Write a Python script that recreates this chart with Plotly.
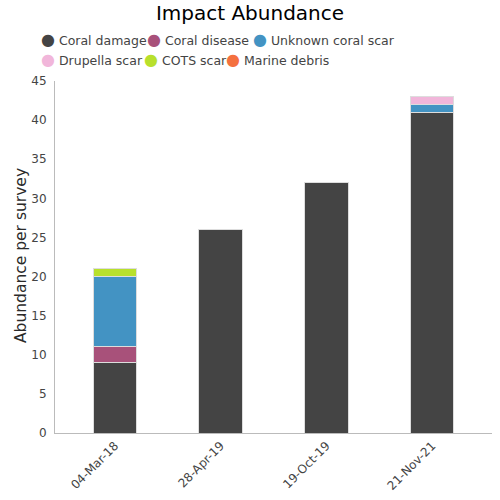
import plotly.graph_objects as go

dates = ["04-Mar-18", "28-Apr-19", "19-Oct-19", "21-Nov-21"]
coral_damage = [9, 26, 32, 41]
coral_disease = [2, 0, 0, 0]
unknown_scar = [9, 0, 0, 1]
drupella_scar = [0, 0, 0, 1]
cots_scar = [1, 0, 0, 0]
marine_debris = [0, 0, 0, 0]

names = ["Coral damage", "Coral disease", "Unknown coral scar", "Drupella scar", "COTS scar", "Marine debris"]
values = [coral_damage, coral_disease, unknown_scar, drupella_scar, cots_scar, marine_debris]
colors = ["#444444", "#a8517a", "#4393c3", "#f1b6da", "#b8e02c", "#f4703f"]
# legend entry placement (left edge x, row centre y) in pixels of the 500x500 canvas
legend_pos = [(41, 40), (147, 40), (253, 40), (41, 60), (144, 60), (226, 60)]

fig = go.Figure()
for name, vals, col in zip(names, values, colors):
    fig.add_trace(go.Bar(x=dates, y=vals, name=name, showlegend=False,
                         marker=dict(color=col, line=dict(color="#dddddd", width=1)), width=0.41))

layout_legends = {}
for i, (name, col, (lx, cy)) in enumerate(zip(names, colors, legend_pos)):
    key = "legend" if i == 0 else f"legend{i+1}"
    label = f"<span style='color:{col};font-size:16px'>●</span> {name}"
    fig.add_trace(go.Scatter(x=[dates[0]], y=[None], name=label, mode="markers", legend=key,
                             marker=dict(color="rgba(0,0,0,0)", size=1), showlegend=True,
                             hoverinfo="skip"))
    layout_legends[key] = dict(orientation="h", xanchor="left", yanchor="middle",
                               xref="container", yref="container",
                               x=(lx - 40) / 500, y=1 - cy / 500,
                               font=dict(size=12.5, color="#444444"),
                               itemwidth=30, bgcolor="rgba(0,0,0,0)")

fig.update_layout(
    barmode="stack",
    width=500, height=500,
    paper_bgcolor="white", plot_bgcolor="white",
    font=dict(family="DejaVu Sans", color="#444444", size=12),
    title=dict(text="Impact Abundance", x=0.5, xanchor="center", xref="container",
               y=1 - 13 / 500, yanchor="middle", yref="container",
               font=dict(size=20, color="black")),
    margin=dict(l=55, r=8, t=81, b=67, autoexpand=False),
    xaxis=dict(showline=True, linecolor="#bbbbbb", tickangle=-45, ticks="", automargin=False,
               range=[-0.566, 3.566],
               tickfont=dict(size=12, color="#444444")),
    yaxis=dict(range=[0, 45], dtick=5, showgrid=False, showline=True, linecolor="#bbbbbb",
               ticks="", ticklabelstandoff=5, zeroline=False, automargin=False,
               tickfont=dict(size=12, color="#444444")),
    annotations=[dict(text="Abundance per survey", textangle=-90, showarrow=False,
                      xref="paper", yref="paper", x=(21 - 55) / 437, y=(433 - 256) / 352,
                      xanchor="center", yanchor="middle",
                      font=dict(size=15.5, color="#2a2a2a"))],
    **layout_legends,
)
fig.write_html("out.html", config={"displayModeBar": False},
               post_script="document.body.style.margin='0';")
